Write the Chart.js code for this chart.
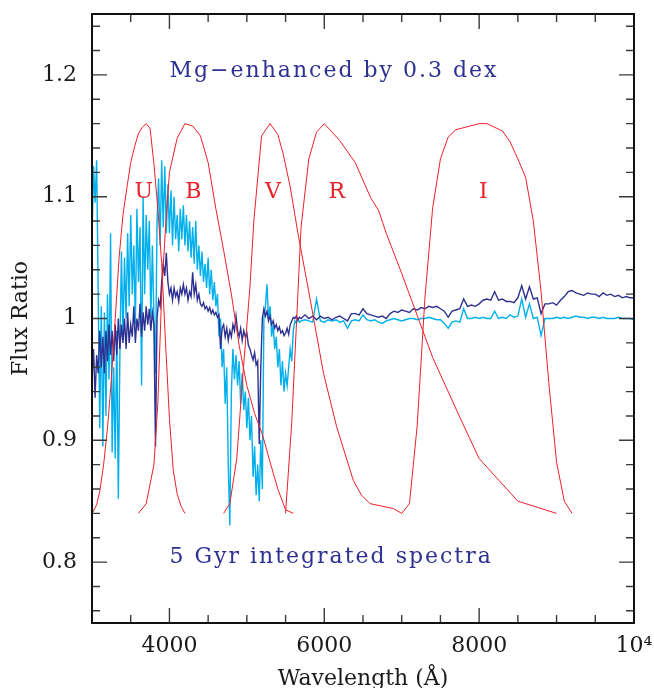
<!DOCTYPE html>
<html>
<head>
<meta charset="utf-8">
<script src="https://cdn.jsdelivr.net/npm/chart.js@4.4.1/dist/chart.umd.min.js"></script>
<style>
html,body{margin:0;padding:0;background:#fff;}
#wrap{width:654px;height:688px;}
</style>
</head>
<body>
<div id="wrap"><canvas id="c" width="654" height="688"></canvas></div>
<script>
// ---- spectra: wavelength grid (Angstrom) ----
const SPEC_WAVE = [
3000,3020,3040,3060,3080,3100,3120,3140,3160,3180,
3200,3220,3240,3260,3280,3300,3320,3340,3360,3380,
3400,3420,3440,3460,3480,3500,3520,3540,3560,3580,
3600,3620,3640,3660,3680,3700,3720,3740,3760,3780,
3800,3820,3840,3860,3880,3900,3920,3940,3960,3980,
4000,4020,4040,4060,4080,4100,4120,4140,4160,4180,
4200,4220,4240,4260,4280,4300,4320,4340,4360,4380,
4400,4420,4440,4460,4480,4500,4520,4540,4560,4580,
4600,4620,4640,4660,4680,4700,4720,4740,4760,4780,
4800,4820,4840,4860,4880,4900,4920,4940,4960,4980,
5000,5020,5040,5060,5080,5100,5120,5140,5160,5180,
5200,5220,5240,5260,5280,5300,5320,5340,5360,5380,
5400,5420,5440,5460,5480,5500,5520,5540,5560,5580,
5600,5620,5640,5660,5680,5700,
5750,5800,5850,5900,5950,6000,6050,6100,6150,6200,
6250,6300,6350,6400,6450,6500,6550,6600,6650,6700,
6750,6800,6850,6900,6950,7000,7050,7100,7150,7200,
7250,7300,7350,7400,7450,7500,7550,7600,7650,7700,
7750,7800,7850,7900,7950,8000,8050,8100,8150,8200,
8250,8300,8350,8400,8450,8500,8550,8600,8650,8700,
8750,8800,8850,8900,8950,9000,9050,9100,9150,9200,
9250,9300,9350,9400,9450,9500,9550,9600,9650,9700,
9750,9800,9850,9900,9950,10000
];

// dark (navy) flux ratio
const RATIO_DARK = [
0.95,0.975,0.935,0.97,0.955,0.99,0.96,0.985,0.955,0.99,
0.965,0.995,0.97,0.99,0.965,0.995,0.97,1.0,0.975,0.995,
0.98,1.0,0.975,1.005,0.98,0.995,0.985,1.01,0.98,1.0,
0.99,1.012,0.985,1.005,0.99,1.01,0.995,1.008,0.99,1.005,
0.995,0.895,1.0,1.015,1.01,1.03,1.045,1.035,1.054,1.03,
1.02,1.025,1.015,1.025,1.018,1.022,1.014,1.025,1.02,1.028,
1.02,1.025,1.015,1.022,1.018,1.038,1.02,1.028,1.015,1.02,
1.012,1.01,1.013,1.008,1.01,1.006,1.009,1.004,1.007,1.003,
1.005,1.001,1.003,0.975,0.992,0.995,0.985,0.992,0.982,0.99,
0.985,0.995,0.99,1.002,0.99,0.985,0.992,0.982,0.99,0.985,
0.988,0.978,0.975,0.97,0.966,0.972,0.962,0.965,0.897,0.96,
1.0,1.008,1.002,1.006,0.998,1.002,0.995,0.998,0.992,0.995,
0.99,0.993,0.988,0.99,0.986,0.988,0.992,0.987,0.995,0.998,
1.001,1.0,1.002,0.999,1.001,1.0,
1.003,1.0,1.002,0.999,1.002,1.0,1.001,0.999,1.001,1.002,
1.0,0.998,1.004,1.004,1.003,1.008,1.004,1.003,1.002,1.001,
1.002,1.0,1.004,1.006,1.005,1.007,1.006,1.005,1.008,1.007,
1.009,1.008,1.01,1.009,1.01,1.008,1.006,1.001,1.006,1.007,
1.008,1.016,1.01,1.011,1.01,1.012,1.015,1.016,1.015,1.022,
1.015,1.016,1.014,1.014,1.013,1.017,1.027,1.016,1.026,1.016,
1.017,1.004,1.012,1.012,1.013,1.011,1.015,1.018,1.022,1.023,
1.021,1.02,1.019,1.021,1.02,1.02,1.018,1.021,1.019,1.02,
1.018,1.019,1.017,1.018,1.017,1.017
];

// light (cyan) flux ratio
const RATIO_LIGHT = [
1.065,1.125,1.095,1.13,1.02,0.91,1.01,0.895,1.005,0.92,
1.02,0.95,1.07,0.89,0.96,0.885,0.99,0.852,0.97,1.055,
0.985,1.05,1.0,1.07,1.01,1.085,1.02,1.06,0.995,1.09,
1.03,1.075,0.945,1.10,1.02,1.085,1.04,1.08,1.0,1.06,
1.0,0.955,1.08,1.115,1.06,1.13,1.075,1.125,1.07,1.11,
1.07,1.105,1.06,1.10,1.065,1.085,1.055,1.09,1.065,1.093,
1.06,1.085,1.055,1.08,1.05,1.075,1.045,1.08,1.04,1.06,
1.035,1.055,1.03,1.045,1.025,1.05,1.02,1.04,1.015,1.03,
1.01,1.02,0.985,1.0,0.96,0.975,0.93,0.96,0.88,0.83,
0.94,0.975,0.95,0.97,0.945,0.965,0.93,0.955,0.925,0.94,
0.91,0.935,0.90,0.92,0.87,0.895,0.855,0.88,0.85,0.90,
0.86,1.0,1.01,1.028,1.0,1.01,0.985,0.995,0.975,0.985,
0.96,0.975,0.945,0.965,0.94,0.955,0.945,0.96,0.975,0.965,
0.99,0.998,0.996,0.999,0.997,0.998,
0.999,0.998,0.997,1.016,0.998,0.997,0.999,0.998,0.999,0.997,
0.998,0.992,0.998,0.999,0.998,1.003,0.999,0.998,0.999,0.997,
0.996,0.998,0.999,1.0,0.999,0.998,0.999,1.0,1.0,0.999,
1.0,1.0,1.001,1.0,0.999,0.999,0.996,0.992,0.997,0.998,
0.997,1.008,1.0,1.0,1.001,1.0,1.001,1.0,1.0,1.006,
1.0,1.001,1.0,1.003,1.001,1.002,1.016,1.001,1.012,1.0,
1.001,0.986,1.0,1.0,1.0,1.001,1.0,1.001,1.0,1.001,
1.002,1.001,1.001,1.0,1.001,1.001,1.0,1.001,1.0,1.0,
1.0,1.001,1.0,1.0,1.0,0.999
];

// ---- filter curves (scaled to the ratio axis) ----
const U_WAVE = [3000,3060,3100,3150,3200,3250,3300,3350,3400,3450,3500,3550,3600,3650,3700,3750,3800,3850,3900,3950,4000,4050,4100,4150,4200];
const U_VAL  = [0.84,0.847,0.858,0.88,0.91,0.95,1.0,1.05,1.085,1.107,1.128,1.141,1.152,1.157,1.16,1.156,1.127,1.09,1.045,0.98,0.918,0.875,0.856,0.846,0.84];
const B_WAVE = [3600,3700,3800,3850,3900,3950,4000,4100,4200,4300,4400,4500,4600,4700,4800,4900,5000,5100,5200,5300,5400,5500,5600];
const B_VAL  = [0.84,0.848,0.88,0.93,1.02,1.075,1.12,1.148,1.16,1.158,1.15,1.128,1.09,1.056,1.02,0.978,0.945,0.922,0.905,0.882,0.86,0.843,0.84];
const V_WAVE = [4700,4780,4870,4950,5040,5090,5190,5300,5400,5470,5560,5665,5820,5990,6160,6375,6480,6590,6890,7000];
const V_VAL  = [0.84,0.848,0.885,0.955,1.026,1.08,1.15,1.16,1.151,1.135,1.108,1.068,1.015,0.955,0.911,0.867,0.855,0.848,0.844,0.84];
const R_WAVE = [5500,5580,5700,5800,5900,6000,6200,6400,6600,6700,6800,7000,7400,7750,8000,8500,9000];
const R_VAL  = [0.84,0.915,1.075,1.131,1.153,1.16,1.146,1.128,1.099,1.089,1.07,1.037,0.968,0.919,0.885,0.85,0.84];
const I_WAVE = [7000,7100,7200,7300,7400,7500,7600,7700,8000,8100,8300,8400,8500,8600,8700,8800,8900,9000,9100,9200];
const I_VAL  = [0.84,0.848,0.912,1.017,1.091,1.131,1.149,1.155,1.16,1.16,1.154,1.145,1.131,1.116,1.08,1.022,0.947,0.882,0.85,0.84];

// ---- ticks ----
const X_TICK_LABELS = [4000,6000,8000,10000];
const X_MINOR_TICKS = [3500,4000,4500,5000,5500,6000,6500,7000,7500,8000,8500,9000,9500];
const Y_TICK_LABELS = [0.8,0.9,1.0,1.1,1.2];
const Y_MINOR_TICKS = [0.76,0.78,0.8,0.82,0.84,0.86,0.88,0.9,0.92,0.94,0.96,0.98,1.0,1.02,1.04,1.06,1.08,1.1,1.12,1.14,1.16,1.18,1.2,1.22,1.24];

// ---- annotations ----
const NOTES = [
  {text:'Mg\u2212enhanced by 0.3 dex', x:4000, y:1.198, color:'#2e3192', align:'left'},
  {text:'5 Gyr integrated spectra', x:4000, y:0.7995, color:'#2e3192', align:'left'},
  {text:'U', x:3668, y:1.099, color:'#e8232b', align:'center'},
  {text:'B', x:4309, y:1.099, color:'#e8232b', align:'center'},
  {text:'V', x:5336, y:1.099, color:'#e8232b', align:'center'},
  {text:'R', x:6160, y:1.099, color:'#e8232b', align:'center'},
  {text:'I', x:8054, y:1.099, color:'#e8232b', align:'center'}
];

const FONT = "'DejaVu Serif', 'Liberation Serif', serif";
const RED = 'rgb(236,32,40)';
const NAVY = '#2e3192';
const CYAN = '#00b0ec';

function pts(xs, ys){ return xs.map((x,i)=>({x:x, y:ys[i]})); }
function filterSet(label, xs, ys){
  return {label, data: pts(xs, ys), borderColor: RED, borderWidth: 1, pointRadius: 0, tension: 0, showLine: true, fill: false};
}
function noPad(s){ s.paddingTop = 0; s.paddingBottom = 0; s.paddingLeft = 0; s.paddingRight = 0; }

const framePlugin = {
  id: 'frameTicks',
  afterDraw(chart){
    const {ctx, chartArea: a, scales} = chart;
    const x = scales.x, y = scales.y;
    ctx.save();
    ctx.strokeStyle = '#3a3a3a';
    ctx.lineWidth = 1.4;
    ctx.beginPath();
    X_MINOR_TICKS.forEach(v => {
      const px = x.getPixelForValue(v);
      const len = X_TICK_LABELS.includes(v) ? 15 : 8;
      ctx.moveTo(px, a.bottom); ctx.lineTo(px, a.bottom - len);
      ctx.moveTo(px, a.top); ctx.lineTo(px, a.top + len);
    });
    Y_MINOR_TICKS.forEach(v => {
      const py = y.getPixelForValue(v);
      const len = Y_TICK_LABELS.some(t => Math.abs(t - v) < 1e-6) ? 15 : 8;
      ctx.moveTo(a.left, py); ctx.lineTo(a.left + len, py);
      ctx.moveTo(a.right, py); ctx.lineTo(a.right - len, py);
    });
    ctx.stroke();
    ctx.strokeStyle = '#111';
    ctx.lineWidth = 2;
    ctx.strokeRect(a.left, a.top, a.right - a.left, a.bottom - a.top);
    // annotations
    ctx.font = '22px ' + FONT;
    ctx.textBaseline = 'alphabetic';
    NOTES.forEach(n => {
      ctx.fillStyle = n.color;
      ctx.textAlign = n.align;
      try { ctx.letterSpacing = n.align === 'left' ? '2px' : '0px'; } catch(e) {}
      ctx.fillText(n.text, x.getPixelForValue(n.x), y.getPixelForValue(n.y));
    });
    ctx.restore();
  }
};

new Chart(document.getElementById('c'), {
  type: 'scatter',
  data: {
    datasets: [
      filterSet('U filter', U_WAVE, U_VAL),
      filterSet('B filter', B_WAVE, B_VAL),
      filterSet('V filter', V_WAVE, V_VAL),
      filterSet('R filter', R_WAVE, R_VAL),
      filterSet('I filter', I_WAVE, I_VAL),
      {label:'Ratio (dark)', data: pts(SPEC_WAVE, RATIO_DARK), borderColor: NAVY, borderWidth: 1.4, pointRadius: 0, tension: 0, showLine: true, fill:false},
      {label:'Ratio (light)', data: pts(SPEC_WAVE, RATIO_LIGHT), borderColor: CYAN, borderWidth: 1.4, pointRadius: 0, tension: 0, showLine: true, fill:false}
    ]
  },
  options: {
    responsive: false,
    animation: false,
    layout: {padding: {left: 0, right: 20, top: 14, bottom: 0}},
    plugins: {legend: {display: false}, tooltip: {enabled: false}},
    scales: {
      x: {
        type: 'linear', position: 'bottom', min: 3000, max: 10000,
        grid: {display: false, drawTicks: false},
        border: {display: false},
        afterBuildTicks: s => { s.ticks = X_TICK_LABELS.map(v => ({value: v})); },
        afterFit: s => { s.height = 65; noPad(s); },
        ticks: {
          padding: 10, color: '#1a1a1a', maxRotation: 0, autoSkip: false,
          font: {family: FONT, size: 22},
          callback: v => v === 10000 ? '10\u2074' : String(v)
        },
        title: {display: true, text: 'Wavelength (\u00C5)', color: '#1a1a1a', font: {family: FONT, size: 22, lineHeight: 0.8}, padding: {top: 0, bottom: 0}}
      },
      y: {
        type: 'linear', position: 'left', min: 0.75, max: 1.25,
        grid: {display: false, drawTicks: false},
        border: {display: false},
        afterBuildTicks: s => { s.ticks = Y_TICK_LABELS.map(v => ({value: v})); },
        afterFit: s => { s.width = 92; noPad(s); },
        ticks: {
          padding: 15, color: '#1a1a1a', autoSkip: false,
          font: {family: FONT, size: 22},
          callback: v => String(+Number(v).toFixed(1))
        },
        title: {display: true, text: 'Flux Ratio', color: '#1a1a1a', font: {family: FONT, size: 22}, padding: {top: 8, bottom: 0}}
      }
    }
  },
  plugins: [framePlugin]
});
</script>
</body>
</html>
